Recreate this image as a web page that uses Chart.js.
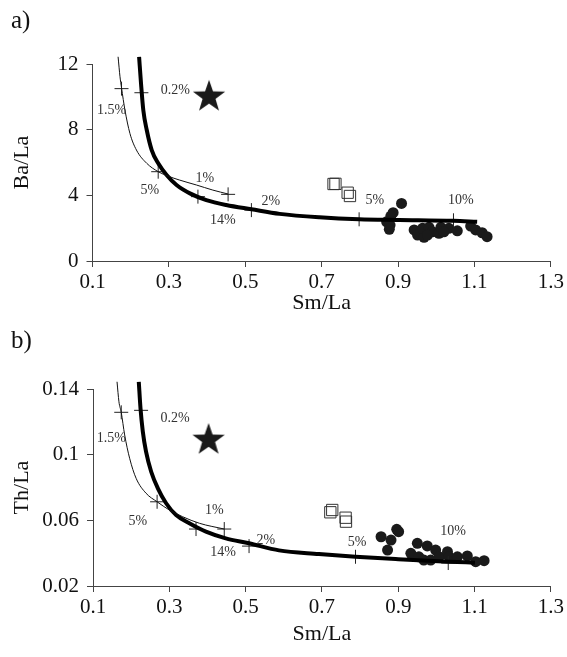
<!DOCTYPE html>
<html>
<head>
<meta charset="utf-8">
<script src="https://cdn.jsdelivr.net/npm/chart.js@4.4.1/dist/chart.umd.min.js"></script>
<style>
  body { margin: 0; background: #fff; }
  #wrap { position: relative; width: 567px; height: 657px; }
  canvas { position: absolute; left: 0; }
  #chartA { top: 0; }
  #chartB { top: 320px; }
</style>
</head>
<body>
<div id="wrap">
  <canvas id="chartA" width="567" height="320"></canvas>
  <canvas id="chartB" width="567" height="337"></canvas>
</div>
<script>
// ---- data ----
const xTicks = [0.1, 0.3, 0.5, 0.7, 0.9, 1.1, 1.3];

// panel a) Ba/La vs Sm/La
const aThickX = [0.222, 0.227, 0.233, 0.242, 0.255, 0.272, 0.294, 0.320, 0.355, 0.398, 0.450, 0.516, 0.590, 0.694, 0.798, 0.903, 1.045, 1.107];
const aThickY = [12.44, 10.82, 9.19, 7.98, 6.76, 5.95, 5.24, 4.63, 4.12, 3.71, 3.41, 3.15, 2.87, 2.66, 2.54, 2.50, 2.45, 2.39];
const aThinX = [0.167, 0.172, 0.176, 0.185, 0.198, 0.215, 0.242, 0.272, 0.298, 0.328, 0.372, 0.415, 0.455];
const aThinY = [12.44, 11.22, 10.55, 9.19, 7.77, 6.76, 5.95, 5.44, 5.17, 4.93, 4.63, 4.32, 4.08];
const aTickX = [0.176, 0.272, 0.455, 0.228, 0.376, 0.516, 0.798, 1.045];
const aTickY = [10.5, 5.44, 4.06, 10.25, 3.92, 3.10, 2.54, 2.48];
const aStar = [0.405, 10.0];
const aSquareX = [0.731, 0.736, 0.768, 0.774];
const aSquareY = [4.69, 4.70, 4.16, 3.96];
const aCircleX = [0.909, 0.887, 0.881, 0.870, 0.879, 0.877, 0.942, 0.951, 0.968, 0.964, 0.981, 0.990, 1.007, 1.012, 1.033, 1.055, 1.090, 1.103, 1.120, 1.133, 0.977, 1.020];
const aCircleY = [3.51, 2.94, 2.74, 2.39, 2.19, 1.93, 1.89, 1.58, 1.44, 1.99, 2.05, 1.78, 1.69, 2.05, 1.99, 1.84, 2.13, 1.89, 1.72, 1.48, 1.58, 1.78];
const aLabelText = ['0.2%', '1.5%', '5%', '1%', '2%', '14%', '5%', '10%'];
const aLabelX = [0.317, 0.150, 0.250, 0.394, 0.567, 0.441, 0.839, 1.064];
const aLabelY = [10.37, 9.19, 4.32, 5.03, 3.65, 2.50, 3.71, 3.67];

// panel b) Th/La vs Sm/La
const bThickX = [0.220, 0.2245, 0.2306, 0.239, 0.2525, 0.270, 0.2916, 0.3178, 0.3525, 0.396, 0.448, 0.509, 0.5875, 0.692, 0.788, 0.900, 1.031, 1.101];
const bThickY = [0.1444, 0.1282, 0.1140, 0.1018, 0.0896, 0.0795, 0.0704, 0.0632, 0.0582, 0.0531, 0.0490, 0.0460, 0.0417, 0.0395, 0.0378, 0.0363, 0.0348, 0.0342];
const bThinX = [0.163, 0.168, 0.174, 0.183, 0.196, 0.213, 0.239, 0.268, 0.300, 0.335, 0.379, 0.444];
const bThinY = [0.1444, 0.1322, 0.1258, 0.1120, 0.0978, 0.0856, 0.0765, 0.0713, 0.0663, 0.0622, 0.0582, 0.0547];
const bTickX = [0.174, 0.268, 0.444, 0.226, 0.370, 0.509, 0.788, 1.031];
const bTickY = [0.1258, 0.0713, 0.0547, 0.1270, 0.0547, 0.0443, 0.0378, 0.0340];
const bStar = [0.403, 0.1089];
const bSquareX = [0.722, 0.727, 0.762, 0.763];
const bSquareY = [0.0649, 0.0663, 0.0616, 0.0592];
const bCircleX = [0.896, 0.901, 0.855, 0.881, 0.872, 0.950, 0.976, 0.998, 0.933, 0.954, 0.967, 0.985, 1.007, 1.029, 1.033, 1.055, 1.081, 1.103, 1.125];
const bCircleY = [0.0545, 0.0531, 0.0500, 0.0480, 0.0419, 0.0460, 0.0444, 0.0419, 0.0399, 0.0378, 0.0358, 0.0358, 0.0378, 0.0409, 0.0378, 0.0378, 0.0383, 0.0348, 0.0354];
const bLabelText = ['0.2%', '1.5%', '5%', '1%', '2%', '14%', '5%', '10%'];
const bLabelX = [0.315, 0.148, 0.2175, 0.418, 0.553, 0.441, 0.792, 1.044];
const bLabelY = [0.1221, 0.1100, 0.0592, 0.0663, 0.0480, 0.0407, 0.0464, 0.0531];

const SERIF = "'Liberation Serif', 'DejaVu Serif', serif";
const INK = '#1a1a1a';

function pts(xs, ys) {
    return xs.map((x, i) => ({x: x, y: ys[i]}));
}

// filled five-point star used as a point style
function makeStar(r) {
    const c = document.createElement('canvas');
    c.width = c.height = 2 * r + 2;
    const ctx = c.getContext('2d');
    ctx.beginPath();
    for (let i = 0; i < 10; i++) {
        const rad = i % 2 === 0 ? r : r * 0.4;
        const a = -Math.PI / 2 + i * Math.PI / 5;
        ctx.lineTo(r + 1 + rad * Math.cos(a), r + 1 + rad * Math.sin(a));
    }
    ctx.closePath();
    ctx.fillStyle = INK;
    ctx.fill();
    return c;
}
const starImg = makeStar(17);

// draws the percentage labels and the panel letter
const annotate = {
    id: 'annotate',
    afterDatasetsDraw(chart, args, opts) {
        const {ctx, scales} = chart;
        ctx.save();
        ctx.fillStyle = '#333';
        ctx.font = `14px ${SERIF}`;
        ctx.textAlign = 'center';
        ctx.textBaseline = 'middle';
        opts.text.forEach((t, i) => {
            ctx.fillText(t, scales.x.getPixelForValue(opts.xs[i]), scales.y.getPixelForValue(opts.ys[i]));
        });
        ctx.fillStyle = '#111';
        ctx.font = `25px ${SERIF}`;
        ctx.textAlign = 'left';
        ctx.fillText(opts.panel, 11, 21);
        ctx.restore();
    }
};

function buildPanel(canvasId, p) {
    const fmt = v => String(Number(v.toFixed(2)));
    return new Chart(document.getElementById(canvasId), {
        type: 'scatter',
        data: {
            datasets: [
                { data: pts(p.thinX, p.thinY), showLine: true, borderColor: '#111', borderWidth: 1, pointRadius: 0, cubicInterpolationMode: 'monotone', clip: false },
                { data: pts(p.thickX, p.thickY), showLine: true, borderColor: '#000', borderWidth: 4, pointRadius: 0, cubicInterpolationMode: 'monotone', clip: false },
                { data: pts(p.tickX, p.tickY), pointStyle: 'cross', pointRadius: 7, borderColor: '#222', borderWidth: 1 },
                { data: pts(p.squareX, p.squareY), pointStyle: 'rect', pointRadius: 8, borderColor: '#333', borderWidth: 1, backgroundColor: 'rgba(0,0,0,0)' },
                { data: pts(p.circleX, p.circleY), pointStyle: 'circle', pointRadius: 5.5, borderWidth: 0, backgroundColor: INK },
                { data: [{x: p.star[0], y: p.star[1]}], pointStyle: starImg }
            ]
        },
        options: {
            responsive: false,
            animation: false,
            layout: { padding: { top: p.padTop, right: 15, left: 0, bottom: 0 } },
            plugins: {
                legend: { display: false },
                tooltip: { enabled: false },
                annotate: { text: p.labelText, xs: p.labelX, ys: p.labelY, panel: p.panel }
            },
            scales: {
                x: {
                    type: 'linear', min: 0.1, max: 1.3,
                    afterBuildTicks: s => { s.ticks = xTicks.map(v => ({value: v})); },
                    afterFit: s => { s.height = p.xHeight; },
                    grid: { drawOnChartArea: false, drawTicks: true, tickLength: 6, color: '#444' },
                    border: { color: '#444', width: 1 },
                    ticks: { color: '#111', padding: 3, font: { family: SERIF, size: 21 }, callback: v => v.toFixed(1), maxRotation: 0 },
                    title: { display: true, text: 'Sm/La', color: '#111', font: { family: SERIF, size: 22 }, padding: { top: 0, bottom: p.xTitlePad } }
                },
                y: {
                    type: 'linear', min: p.yMin, max: p.yMax,
                    afterBuildTicks: s => { s.ticks = p.yTicks.map(v => ({value: v})); },
                    afterFit: s => { s.width = p.yWidth; },
                    grid: { drawOnChartArea: false, drawTicks: true, tickLength: 6, color: '#444' },
                    border: { color: '#444', width: 1 },
                    ticks: { color: '#111', padding: 8, font: { family: SERIF, size: 21 }, callback: fmt },
                    title: { display: true, text: p.yTitle, color: '#111', font: { family: SERIF, size: 22 }, padding: { top: 9, bottom: 0 } }
                }
            }
        },
        plugins: [annotate]
    });
}

buildPanel('chartA', {
    panel: 'a)', yTitle: 'Ba/La', yMin: 0, yMax: 12, yTicks: [0, 4, 8, 12],
    padTop: 64, xHeight: 59, yWidth: 92.5, xTitlePad: 4,
    thickX: aThickX, thickY: aThickY, thinX: aThinX, thinY: aThinY,
    tickX: aTickX, tickY: aTickY, star: aStar,
    squareX: aSquareX, squareY: aSquareY, circleX: aCircleX, circleY: aCircleY,
    labelText: aLabelText, labelX: aLabelX, labelY: aLabelY
});

buildPanel('chartB', {
    panel: 'b)', yTitle: 'Th/La', yMin: 0.02, yMax: 0.14, yTicks: [0.02, 0.06, 0.1, 0.14],
    padTop: 69, xHeight: 71, yWidth: 93, xTitlePad: 10,
    thickX: bThickX, thickY: bThickY, thinX: bThinX, thinY: bThinY,
    tickX: bTickX, tickY: bTickY, star: bStar,
    squareX: bSquareX, squareY: bSquareY, circleX: bCircleX, circleY: bCircleY,
    labelText: bLabelText, labelX: bLabelX, labelY: bLabelY
});
</script>
</body>
</html>
